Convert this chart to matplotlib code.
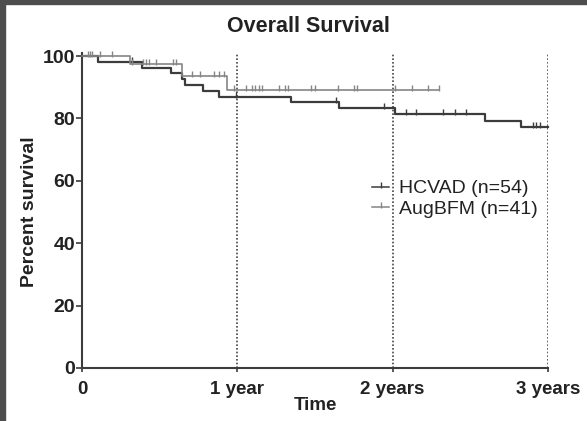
"""Overall survival Kaplan-Meier style step chart."""

import matplotlib
matplotlib.use("Agg")
import matplotlib.pyplot as plt
import numpy as np
from matplotlib.lines import Line2D
from matplotlib.patches import Rectangle
from matplotlib.path import Path

# HCVAD (n=54): step times (months) and survival (%)
hcvad_times = [0, 1.2, 4.6, 6.85, 7.75, 7.95, 9.35, 10.55, 16.15, 19.85, 24.15, 31.1, 33.9]
hcvad_surv = [100, 98.1, 96.3, 94.4, 92.6, 90.7, 88.9, 87.0, 85.2, 83.3, 81.5, 79.3, 77.1]
hcvad_end = 36.0
hcvad_censor = [3.85, 11.9, 19.6, 23.3, 25.05, 25.8, 27.9, 28.8, 29.7, 34.85, 35.1, 35.35]

# AugBFM (n=41)
aug_times = [0, 3.7, 7.75, 11.2]
aug_surv = [100, 97.6, 93.7, 89.2]
aug_end = 27.6
aug_censor = [0.45, 0.6, 0.75, 1.4, 2.35,
              3.85, 4.75, 4.95, 5.15, 5.75, 7.05, 7.25,
              8.5, 9.15, 10.2, 10.6, 11.0,
              11.75, 12.65, 13.15, 13.4, 13.65, 13.9, 15.2, 15.65, 15.9,
              17.7, 18.0, 19.8, 21.0, 21.25, 24.2, 25.5, 26.7, 27.6]

x_ticks = [0, 12, 24, 36]
x_ticklabels = ["0", "1 year", "2 years", "3 years"]
y_ticks = [0, 20, 40, 60, 80, 100]

plt.rcParams["font.family"] = ["Liberation Sans", "DejaVu Sans"]

TICK = Path([(0, -0.25), (0, 1)], [Path.MOVETO, Path.LINETO])


def step_xy(times, surv, end):
    x = list(times) + [end]
    y = list(surv) + [surv[-1]]
    return x, y


def level_at(times, surv, t):
    idx = np.searchsorted(times, t, side="right") - 1
    return np.asarray(surv)[idx]


fig = plt.figure(figsize=(5.87, 4.21), dpi=100)
ax = fig.add_axes([82 / 587, 1 - 368 / 421, 466 / 587, 315.1 / 421])

series = [
    ("HCVAD (n=54)", hcvad_times, hcvad_surv, hcvad_end, hcvad_censor, "#3c3c3c", 1.6),
    ("AugBFM (n=41)", aug_times, aug_surv, aug_end, aug_censor, "#858585", 1.2),
]
handles = []
for label, t, s, end, cens, color, lw in series:
    x, y = step_xy(t, s, end)
    ax.step(x, y, where="post", color=color, lw=lw, clip_on=False, zorder=3)
    ax.plot(cens, level_at(t, s, cens), ls="none", marker=TICK, ms=6.5,
            mec=color, mfc="none", mew=1.0, clip_on=False, zorder=3)
    handles.append(Line2D([0], [0], color=color, lw=1.1, marker=TICK, ms=6.5,
                          mec=color, mew=1.0, markevery=[1]))

for xv in x_ticks[1:]:
    ax.axvline(xv, color="#444444", lw=1.2, ls=(0, (1, 1.2)), zorder=2)

ax.set_xlim(0, 36)
ax.set_ylim(0, 101)
ax.set_xticks(x_ticks)
ax.set_xticklabels(x_ticklabels)
ax.set_yticks(y_ticks)
for side in ("top", "right"):
    ax.spines[side].set_visible(False)
for side in ("left", "bottom"):
    ax.spines[side].set_color("#3c3c3c")
    ax.spines[side].set_linewidth(1.5)
ax.tick_params(axis="y", length=4, width=1.2, color="#3c3c3c", pad=1, labelsize=14)
ax.tick_params(axis="x", length=3, width=1.2, color="#3c3c3c", pad=6.5, labelsize=13.5)
for lab in ax.get_xticklabels() + ax.get_yticklabels():
    lab.set_fontweight("bold")
    lab.set_color("#222222")

leg = ax.legend(handles, [s[0] for s in series], loc="center left",
                bbox_to_anchor=(0.601, 0.537), frameon=False, fontsize=14,
                handlelength=0.9, handletextpad=0.5, labelspacing=0.15, borderpad=0)
for txt in leg.get_texts():
    txt.set_color("#222222")

fig.text(0.526, 0.936, "Overall Survival", ha="center", va="center",
         fontsize=15.5, fontweight="bold", color="#222222")
fig.text(0.05, 0.496, "Percent survival", ha="center", va="center", rotation=90,
         fontsize=14, fontweight="bold", color="#222222")
fig.text(0.537, 0.036, "Time", ha="center", va="center",
         fontsize=13.5, fontweight="bold", color="#222222")

# dark frame on the left and top edges of the image
fig.patches.append(Rectangle((0, 0), 5 / 587, 1, transform=fig.transFigure,
                             color="#4d4d4d", zorder=10))
fig.patches.append(Rectangle((0, 1 - 4 / 421), 1, 4 / 421, transform=fig.transFigure,
                             color="#4d4d4d", zorder=10))

fig.savefig("out.png", dpi=100)
plt.close(fig)
